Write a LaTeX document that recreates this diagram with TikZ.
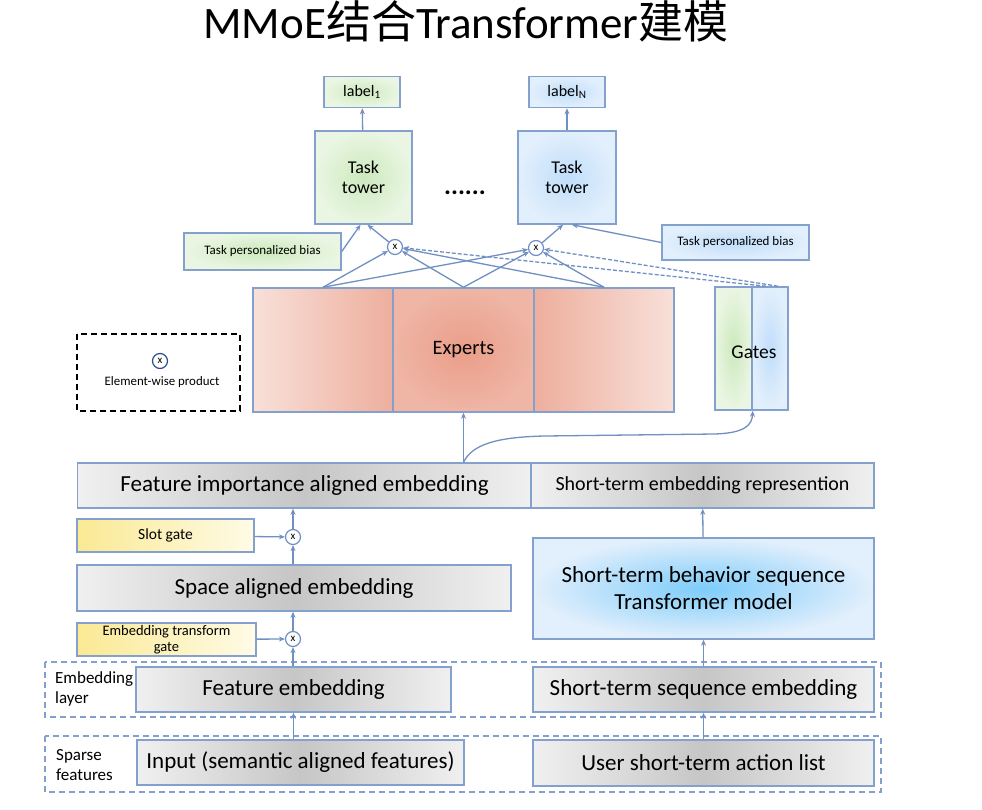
\documentclass[tikz,border=0pt]{standalone}
\usepackage{fontspec}
\setmainfont{Carlito}
\newfontfamily\cjk{Noto Sans CJK SC}
\usetikzlibrary{arrows.meta, positioning, shadings}

\definecolor{edgeB}{RGB}{132,160,205}
\definecolor{lineB}{RGB}{112,144,195}
\definecolor{grayL}{RGB}{240,240,240}
\definecolor{grayD}{RGB}{198,198,198}
\definecolor{redL}{RGB}{248,224,217}
\definecolor{redD}{RGB}{234,158,137}
\definecolor{greenL}{RGB}{234,246,227}
\definecolor{greenD}{RGB}{204,233,189}
\definecolor{blueL}{RGB}{226,239,252}
\definecolor{blueD}{RGB}{192,222,250}
\definecolor{blueT}{RGB}{125,204,250}
\definecolor{yellowD}{RGB}{250,233,148}
\definecolor{yellowL}{RGB}{255,251,230}
\definecolor{navy}{RGB}{45,75,145}

\begin{document}
\begin{tikzpicture}
[x=1pt, y=-1pt,
 ->/.style={lineB, line width=1.3pt, arrows={-Stealth[length=6pt, width=5pt]}},
 -->/.style={lineB, line width=1.3pt, dash pattern=on 4pt off 2pt, arrows={-Stealth[length=6pt, width=5pt]}},
 box/.style={shape=rectangle, draw=edgeB, line width=1.5pt, inner sep=0pt, align=center},
 grayB/.style={box, left color=grayL, right color=grayL, middle color=grayD, font=\fontsize{23}{27}\selectfont},
 greenB/.style={box, shading=radial, inner color=greenD, outer color=greenL, font=\fontsize{18}{20}\selectfont},
 blueB/.style={box, shading=radial, inner color=blueD, outer color=blueL, font=\fontsize{18}{20}\selectfont},
 yellowB/.style={box, left color=yellowD, right color=yellowL, font=\fontsize{15.5}{17}\selectfont},
 mult/.style={circle, draw=lineB, fill=white, line width=1.2pt, minimum size=15pt, inner sep=0pt, font=\fontsize{11}{11}\selectfont},
 layerBox/.style={draw=edgeB, line width=1.3pt, dash pattern=on 6pt off 4pt},
 sideL/.style={anchor=west, align=left, inner sep=0pt, font=\fontsize{17}{20}\selectfont}]
\fill[white] (0,0) rectangle (982,810);
\useasboundingbox (0,0) rectangle (982,810);

\node[anchor=base, font=\fontsize{45}{45}\selectfont] (title) at (466,39) {MMoE{\cjk 结合}Transformer{\cjk 建模}};

% task side
\node[greenB, minimum width=76pt, minimum height=31pt, font=\fontsize{16}{16}\selectfont] (lab1) at (362,92) {label\textsubscript{1}};
\node[blueB, minimum width=76pt, minimum height=31pt, font=\fontsize{16}{16}\selectfont] (labN) at (567,92) {label\textsubscript{N}};
\node[greenB, minimum width=97pt, minimum height=93pt] (T1) at (363.5,177.5) {Task\\tower};
\node[blueB, minimum width=98pt, minimum height=93pt] (TN) at (567,177.5) {Task\\tower};
\node[font=\fontsize{26}{26}\bfseries\selectfont] (dots) at (465,193) {......};
\node[greenB, minimum width=157pt, minimum height=37pt, font=\fontsize{13}{15}\selectfont] (bias1) at (262.5,251.5) {Task personalized bias};
\node[blueB, minimum width=147pt, minimum height=35pt, font=\fontsize{13}{15}\selectfont] (biasN) at (735.5,242.5) {Task personalized bias};
\node[mult] (m1) at (395,247) {x};
\node[mult] (mN) at (536,248) {x};

% experts and gates
\node[box, left color=redL, right color=redD!75!redL, minimum width=140pt, minimum height=124pt] (expA) at (323,350) {};
\node[box, shading=radial, inner color=redD, outer color=redD!65!redL, minimum width=141pt, minimum height=124pt, font=\fontsize{20.5}{24}\selectfont] (expB) at (463.5,350) {Experts};
\node[box, left color=redD!75!redL, right color=redL, minimum width=140pt, minimum height=124pt] (expC) at (604,350) {};
\node[box, shading=radial, inner color=greenD, outer color=greenL, minimum width=37pt, minimum height=123pt] (gateG) at (733.5,348.5) {};
\node[box, shading=radial, inner color=blueD, outer color=blueL, minimum width=36pt, minimum height=123pt] (gateB) at (770,348.5) {};
\node[font=\fontsize{19.5}{22}\selectfont] (gates) at (754,352) {Gates};

% legend
\draw[black, line width=2pt, dash pattern=on 6pt off 4pt] (77,334) rectangle (240,411);
\node[circle, draw=navy, line width=1.2pt, minimum size=15pt, inner sep=0pt, font=\fontsize{11}{11}\selectfont] (legM) at (160,361) {x};
\node[font=\fontsize{12.9}{15}\selectfont] (legT) at (162,382) {Element-wise product};

% embeddings
\node[grayB, minimum width=454pt, minimum height=45pt] (FIA) at (304.5,485.5) {Feature importance aligned embedding};
\node[grayB, minimum width=343pt, minimum height=45pt, font=\fontsize{20}{24}\selectfont] (STER) at (702.5,485.5) {Short-term embedding represention};
\node[yellowB, minimum width=177pt, minimum height=33pt] (slot) at (165.5,535.5) {Slot gate};
\node[mult] (mS) at (293,537) {x};
\node[grayB, minimum width=434pt, minimum height=46pt] (SAE) at (294,588) {Space aligned embedding};
\node[yellowB, minimum width=179pt, minimum height=33pt, font=\fontsize{14.5}{16.5}\selectfont] (ETG) at (166.5,639.5) {Embedding transform\\gate};
\node[mult] (mE) at (293,639) {x};
\node[box, shading=radial, inner color=blueT, outer color=blueL, minimum width=341pt, minimum height=101pt, font=\fontsize{23}{27}\selectfont] (TRF) at (703.5,588.5) {Short-term behavior sequence\\Transformer model};

% embedding layer and sparse features
\draw[layerBox] (45,662) rectangle (881,717);
\draw[layerBox] (45,736) rectangle (881,792);
\node[grayB, minimum width=315pt, minimum height=45pt] (FE) at (293.5,689.5) {Feature embedding};
\node[grayB, minimum width=341pt, minimum height=45pt] (SSE) at (703.5,689.5) {Short-term sequence embedding};
\node[grayB, minimum width=327pt, minimum height=45pt] (In) at (300.5,762.5) {Input (semantic aligned features)};
\node[grayB, minimum width=341pt, minimum height=46pt] (User) at (703.5,763) {User short-term action list};
\node[sideL] (embL) at (55,689) {Embedding\\layer};
\node[sideL] (spaL) at (56,765) {Sparse\\features};

% connectors
\draw[->] (T1) -- (lab1);
\draw[->] (TN) -- (labN);
\draw[->] (bias1.east) -- ([xshift=-3pt]T1.south);
\draw[->] (m1) -- ([xshift=4pt]T1.south);
\draw[->] (biasN.west) -- ([xshift=5pt]TN.south);
\draw[->] (mN) -- ([xshift=-4pt]TN.south);
\foreach \e in {expA, expB, expC} {
  \draw[->] (\e.north) -- (m1);
  \draw[->] (\e.north) -- (mN);
}
\draw[-->] ([xshift=-4pt]gateB.north) -- (m1);
\draw[-->] ([xshift=8pt]gateB.north) -- (mN);
\coordinate (fiaTop) at (expB.south |- FIA.north);
\draw[->] (fiaTop) -- (expB.south);
\draw[->] (fiaTop) .. controls (472,445) and (495,437) .. (545,436) -- (715,434) .. controls (745,433) and (752,425) .. (gateG.south east);
\draw[->] (slot) -- (mS);
\draw[->] (mS) -- (mS |- FIA.south);
\draw[->] (SAE.north -| mS) -- (mS);
\draw[->] (ETG) -- (mE);
\draw[->] (mE) -- (mE |- SAE.south);
\draw[->] (FE.north -| mE) -- (mE);
\draw[->] (In.north -| FE.south) -- (FE.south);
\draw[->] (User) -- (SSE);
\draw[->] (SSE) -- (TRF);
\draw[->] (TRF) -- (STER);
\end{tikzpicture}
\end{document}
